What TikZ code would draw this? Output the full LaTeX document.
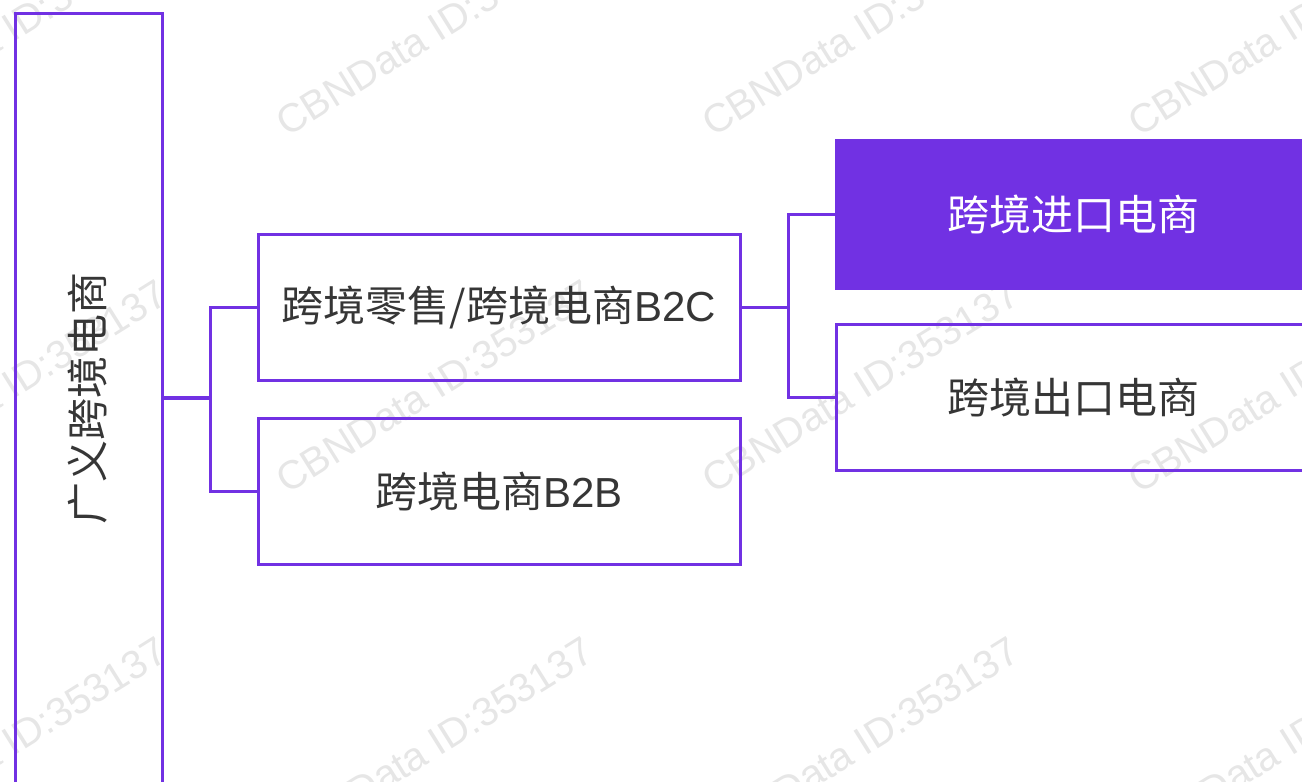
\documentclass[tikz,border=0pt]{standalone}
\usepackage{fontspec}
\setmainfont{Liberation Sans}
\newfontfamily\cjk{Noto Sans CJK SC}
\definecolor{brand}{HTML}{7131E3}
\definecolor{txt}{HTML}{363636}
\definecolor{wmark}{HTML}{E6E6E6}
\tikzset{
  box/.style={draw=brand, line width=3pt, rectangle, inner sep=0pt, text=txt,
    font=\fontsize{42}{50}\selectfont},
  conn/.style={draw=brand, line width=3pt},
  wm/.style={text=wmark, font=\fontsize{40}{48}\selectfont, inner sep=0pt, rotate=32, anchor=base west}
}
\begin{document}
\begin{tikzpicture}[x=1pt,y=-1pt]
\useasboundingbox (0,0) rectangle (1302,782);
\clip (0,0) rectangle (1302,782);
\fill[white] (0,0) rectangle (1302,782);
% watermarks
\foreach \wx in {-139,287,713,1139}{
  \foreach \wy in {138,495,852}{
    \node[wm] at (\wx,\wy) {CBNData ID:353137};
  }
}
% boxes
\node[box, minimum width=147pt, minimum height=776pt] (L) at (88.5,401) {};
\node[text=txt, font=\fontsize{42}{50}\selectfont\cjk, rotate=90, inner sep=0pt] (Lt) at (88,398) {广义跨境电商};
\node[box, minimum width=482pt, minimum height=146pt] (B2C) at (499,307) {{\cjk 跨境零售/跨境电商}B2C};
\node[box, minimum width=482pt, minimum height=146pt] (B2B) at (499,491) {{\cjk 跨境电商}B2B};
\node[box, fill=brand, text=white, minimum width=474pt, minimum height=148pt] (IMP) at (1073,214) {\cjk 跨境进口电商};
\node[box, minimum width=474pt, minimum height=146pt] (EXP) at (1073,397) {\cjk 跨境出口电商};
% connectors
\coordinate (j1) at (210,398);
\coordinate (j2) at (788,307);
\draw[conn, line width=4pt] (L.east |- j1) -- (j1);
\draw[conn] (B2C.west) -| (j1) |- (B2B.west);
\draw[conn] (B2C.east) -- (j2);
\draw[conn] (IMP.west) -| (j2) |- (EXP.west);
\end{tikzpicture}
\end{document}
